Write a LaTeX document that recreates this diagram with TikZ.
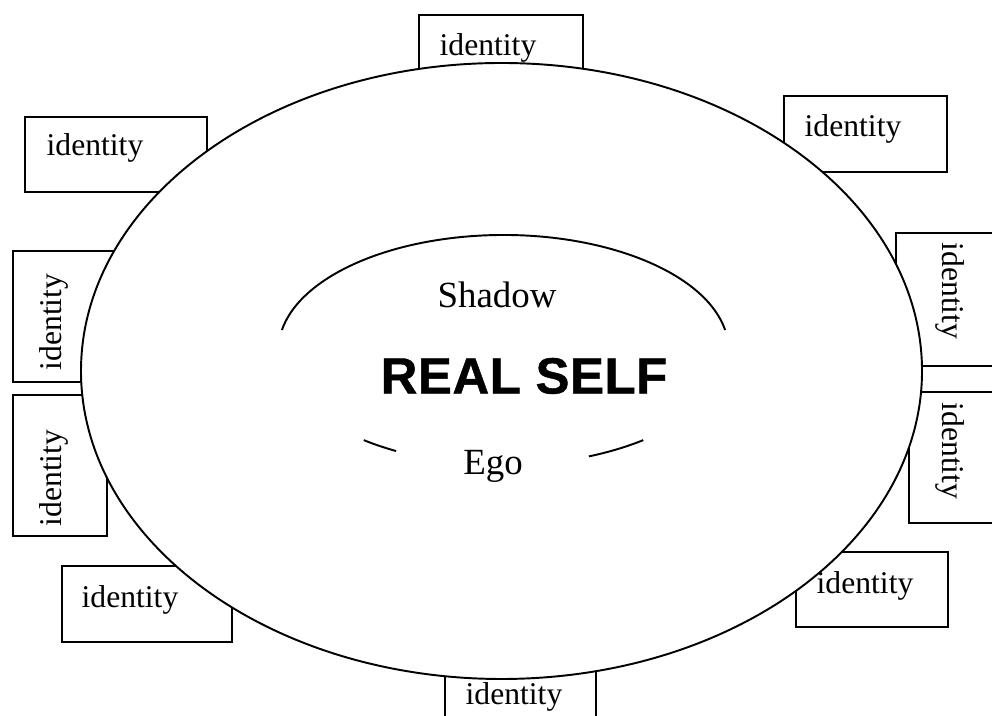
\documentclass[tikz,border=0pt]{standalone}
\usepackage{fontspec}
\setmainfont{Liberation Serif}
\newfontfamily\selffont[FakeBold=0.8, LetterSpace=1]{Liberation Sans Bold}
\usepackage{tikz}
\usetikzlibrary{calc}
\tikzset{idbox/.style={draw, line width=1.1pt},
    idtext/.style={font=\fontsize{18}{20}\selectfont, inner sep=0pt},
    part/.style={font=\fontsize{21}{24}\selectfont, inner sep=0pt}}

\begin{document}
\begin{tikzpicture}[x=0.2mm, y=0.2mm]
      \useasboundingbox (0,0) rectangle (992,716);
      \foreach \a/\b/\c/\d in {419/616/583/701, 25/524/207/599,
        784/544/947/620, 896/350/1000/483, 909/193/1000/324,
        13/334/200/465, 13/180/107/321, 62/74/232/150,
        796/89/948/164, 445/-20/596/76}
        \draw[idbox] (\a,\b) rectangle (\c,\d);
      \draw[idbox, fill=white] (501.5,345) ellipse [x radius=420.5, y radius=308];
      \foreach \n/\x/\y/\r in {1/488/668/0, 2/95/568/0, 3/853/587/0,
        4/950/425/-90, 5/950/265/-90, 6/54/394/90, 7/54/238/90,
        8/130/116/0, 9/865/130/0, 10/514/19/0}
        \node[idtext, rotate=\r] (id\n) at (\x,\y) {identity};
      \coordinate (inner) at (503.5,366);
      \draw[line width=1.1pt] ($(inner)+(10:225 and 115)$)
        arc[start angle=10, end angle=170, x radius=225, y radius=115];
      \draw[line width=1.1pt] ($(inner)+(231.6:225 and 115)$)
        arc[start angle=231.6, end angle=241.5, x radius=225, y radius=115];
      \draw[line width=1.1pt] ($(inner)+(292.3:225 and 115)$)
        arc[start angle=292.3, end angle=308.4, x radius=225, y radius=115];
      \node[part] (shadow) at (497,421) {Shadow};
      \node[part] (ego) at (493,250) {Ego};
      \node[font=\selffont\fontsize{29}{32}\selectfont, inner sep=0pt]
        (realself) at (524,340) {REAL SELF};
    \end{tikzpicture}
\end{document}
